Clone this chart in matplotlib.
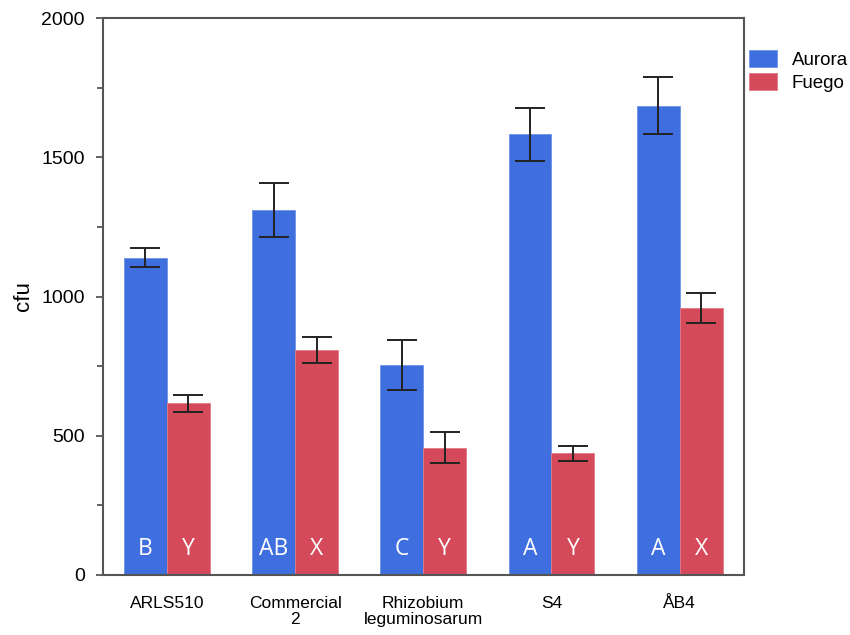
import numpy as np
import matplotlib.pyplot as plt
from matplotlib.ticker import MultipleLocator

plt.rcParams['font.family'] = ['Liberation Sans', 'DejaVu Sans']

strains = ['ARLS510', 'Commercial\n2', 'Rhizobium\nleguminosarum', 'S4', 'ÅB4']
aurora = [1140, 1311, 755, 1582, 1686]
aurora_err = [33, 97, 90, 94, 102]
fuego = [616, 807, 457, 437, 958]
fuego_err = [32, 46, 55, 26, 54]
aurora_letters = ['B', 'AB', 'C', 'A', 'A']
fuego_letters = ['Y', 'X', 'Y', 'Y', 'X']

c_aurora = '#3F6FDE'
c_fuego = '#D44A5A'

fig = plt.figure(figsize=(8.5, 6.35), dpi=100)
ax = fig.add_axes([0.121, 0.0945, 0.754, 0.877])

x = np.arange(len(strains))
w = 0.335
ekw = dict(ecolor='#222222', elinewidth=1.4, capthick=1.4)
ax.bar(x - w / 2, aurora, w, yerr=aurora_err, capsize=10.5, color=c_aurora,
       edgecolor='#6E93EA', linewidth=0.6, label='Aurora', error_kw=ekw)
ax.bar(x + w / 2, fuego, w, yerr=fuego_err, capsize=10.5, color=c_fuego,
       edgecolor='#E27985', linewidth=0.6, label='Fuego', error_kw=ekw)

# letras de significancia dentro de las barras
for i in range(len(strains)):
    ax.text(x[i] - w / 2, 92, aurora_letters[i], color='white', ha='center',
            va='center', fontsize=16.5, family=['Open Sans', 'DejaVu Sans'])
    ax.text(x[i] + w / 2, 92, fuego_letters[i], color='white', ha='center',
            va='center', fontsize=16.5, family=['Open Sans', 'DejaVu Sans'])

ax.set_xlim(-0.5, 4.5)
ax.set_ylim(0, 2000)
ax.set_xticks(x)
ax.set_xticklabels(strains, fontsize=12.5, linespacing=1.1)
ax.tick_params(axis='x', length=0, pad=15)
ax.yaxis.set_major_locator(MultipleLocator(500))
ax.yaxis.set_minor_locator(MultipleLocator(250))
ax.tick_params(axis='y', which='major', length=5, width=1.3, color='#555555', labelsize=14, pad=8)
ax.tick_params(axis='y', which='minor', length=4, width=1.3, color='#555555')
ax.set_ylabel('cfu', fontsize=16, labelpad=5)

for s in ax.spines.values():
    s.set_color('#555555')
    s.set_linewidth(1.5)

ax.legend(loc='upper left', bbox_to_anchor=(1.0, 0.952), frameon=False,
          fontsize=13.5, handlelength=1.45, handleheight=1.0, labelspacing=0.2,
          borderaxespad=0.0, borderpad=0.3, handletextpad=0.8)

fig.savefig('out.png', dpi=100)
